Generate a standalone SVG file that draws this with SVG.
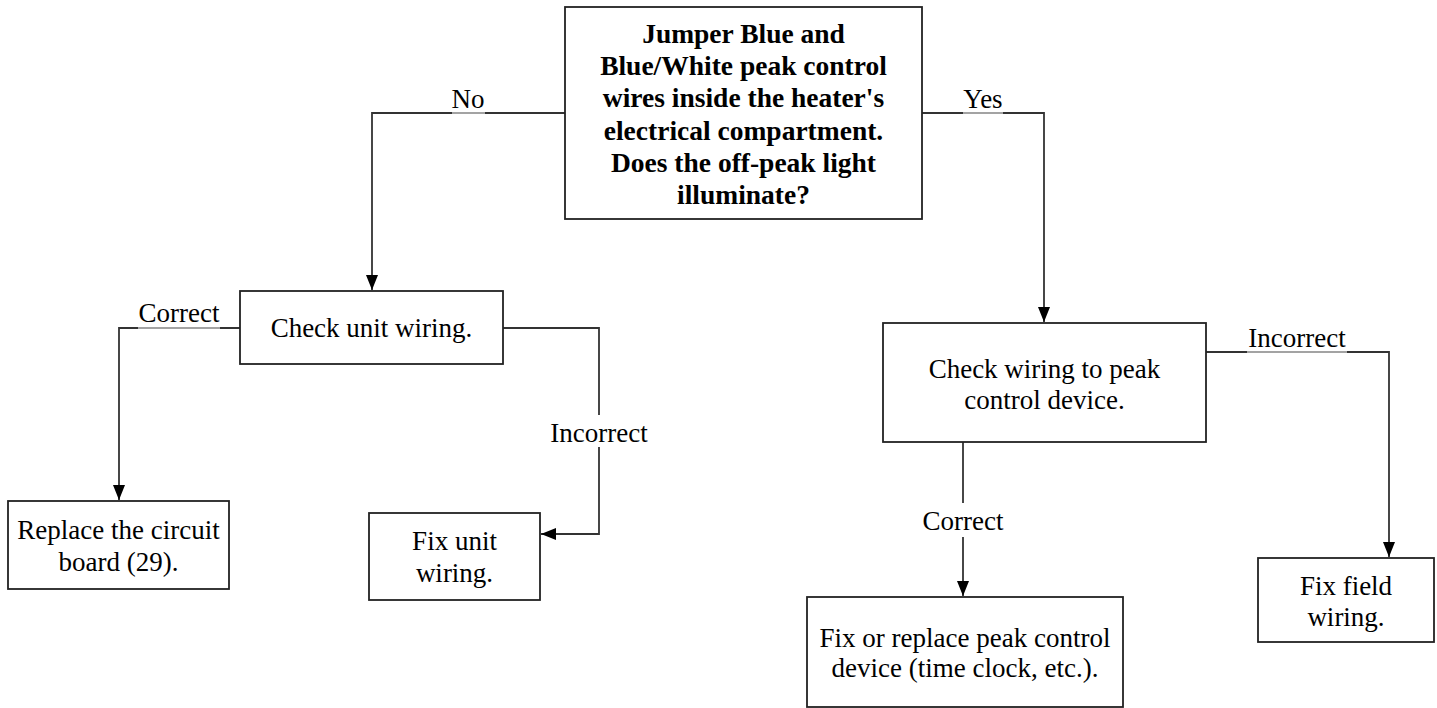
<svg xmlns="http://www.w3.org/2000/svg" width="1437" height="708" viewBox="0 0 1437 708">
<style>
.box{fill:#fff;stroke:#222;stroke-width:1.8}
.con{fill:none;stroke:#333;stroke-width:1.8}
.t{font-family:"Liberation Serif","Times New Roman",serif;font-size:27px;fill:#000;text-anchor:middle}
.b{font-weight:bold;font-size:27.5px}
.bg{fill:#fff}
.dim{fill:#fff;opacity:0.55}
</style>
<defs>
<marker id="ah" markerUnits="userSpaceOnUse" markerWidth="16" markerHeight="12" refX="15" refY="6" orient="auto">
<path d="M0,0 L15,6 L0,12 Z" fill="#000"/>
</marker>
</defs>
<rect width="1437" height="708" fill="#fff"/>
<g id="connectors">
<path class="con" d="M565,113 H372 V290" marker-end="url(#ah)"/>
<path class="con" d="M922,113 H1044 V322" marker-end="url(#ah)"/>
<path class="con" d="M240,328 H119 V500" marker-end="url(#ah)"/>
<path class="con" d="M503,328 H599 V534 H541" marker-end="url(#ah)"/>
<path class="con" d="M963,442 V596" marker-end="url(#ah)"/>
<path class="con" d="M1206,352 H1389 V557" marker-end="url(#ah)"/>
<rect class="bg" x="545" y="415" width="108" height="32"/>
<rect class="bg" x="915" y="503" width="96" height="34"/>
<rect class="dim" x="452" y="111" width="33" height="4"/>
<rect class="dim" x="963" y="111" width="40" height="4"/>
<rect class="dim" x="138" y="326" width="82" height="4"/>
<rect class="dim" x="1247" y="350" width="100" height="4"/>
<text class="t" x="468" y="108">No</text>
<text class="t" x="983" y="108">Yes</text>
<text class="t" x="179" y="322">Correct</text>
<text class="t" x="599" y="442">Incorrect</text>
<text class="t" x="963" y="530">Correct</text>
<text class="t" x="1297" y="347">Incorrect</text>
</g>
<g id="start">
<rect class="box" x="565" y="7" width="357" height="212"/>
<text class="t b" x="743.5" y="42.7">Jumper Blue and</text>
<text class="t b" x="743.5" y="75">Blue/White peak control</text>
<text class="t b" x="743.5" y="107.3">wires inside the heater's</text>
<text class="t b" x="743.5" y="139.5">electrical compartment.</text>
<text class="t b" x="743.5" y="171.7">Does the off-peak light</text>
<text class="t b" x="743.5" y="204">illuminate?</text>
</g>
<g id="check-unit">
<rect class="box" x="240" y="291" width="263" height="73"/>
<text class="t" x="371.5" y="336.5">Check unit wiring.</text>
</g>
<g id="replace-board">
<rect class="box" x="8" y="501" width="221" height="88"/>
<text class="t" x="118.5" y="538.5">Replace the circuit</text>
<text class="t" x="118.5" y="570.5">board (29).</text>
</g>
<g id="fix-unit">
<rect class="box" x="369" y="513" width="171" height="87"/>
<text class="t" x="454.5" y="550">Fix unit</text>
<text class="t" x="454.5" y="581.5">wiring.</text>
</g>
<g id="check-peak">
<rect class="box" x="883" y="323" width="323" height="119"/>
<text class="t" x="1044.5" y="378">Check wiring to peak</text>
<text class="t" x="1044.5" y="408.5">control device.</text>
</g>
<g id="fix-replace">
<rect class="box" x="807" y="597" width="316" height="110"/>
<text class="t" x="965" y="646.5">Fix or replace peak control</text>
<text class="t" x="965" y="677">device (time clock, etc.).</text>
</g>
<g id="fix-field">
<rect class="box" x="1258" y="558" width="176" height="84"/>
<text class="t" x="1346" y="595">Fix field</text>
<text class="t" x="1346" y="625.5">wiring.</text>
</g>
</svg>
